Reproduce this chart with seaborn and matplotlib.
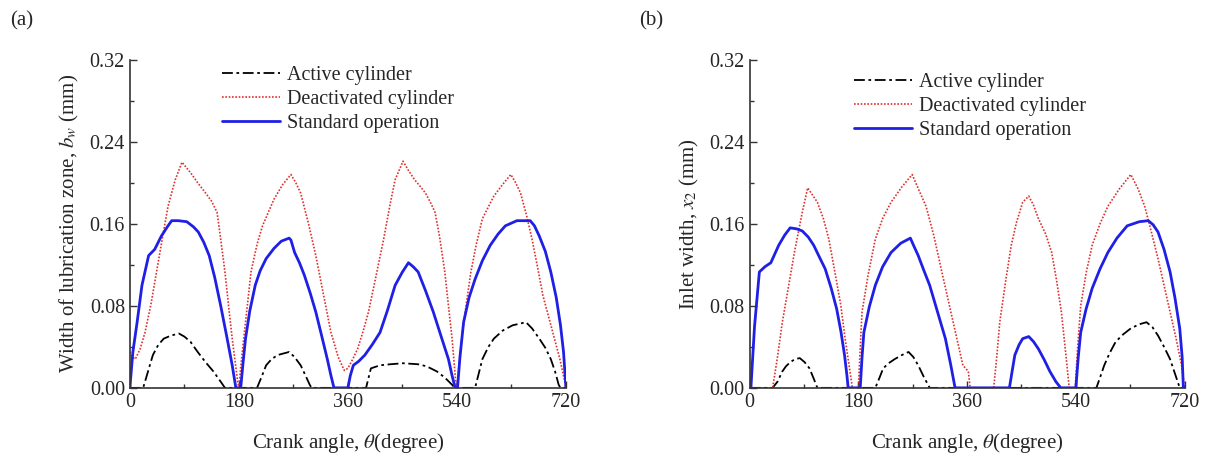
import numpy as np
import pandas as pd
import matplotlib
matplotlib.use("Agg")
import matplotlib.pyplot as plt
import seaborn as sns
from matplotlib.ticker import MultipleLocator, FormatStrFormatter

# ---- panel (a): width of lubrication zone ----
a_std_t = [0, 5, 12, 20, 31, 41, 52, 63, 69, 80, 94, 105, 113, 122, 131, 140, 150, 160, 169, 175,
           183, 187, 191, 198, 207, 215, 225, 238, 250, 263, 266, 272, 280, 288, 298, 307, 317, 326, 332, 337,
           360, 364, 369, 378, 388, 400, 413, 425, 438, 450, 460, 468, 476, 488, 501, 514, 526, 532, 537,
           541, 545, 551, 560, 570, 582, 595, 608, 620, 639, 650, 661, 668, 676, 686, 695, 704, 711, 716, 720]
a_std_v = [0, 0.035, 0.064, 0.100, 0.129, 0.135, 0.148, 0.158, 0.163, 0.163, 0.162, 0.157, 0.152, 0.142, 0.129,
           0.108, 0.080, 0.050, 0.022, 0.0,
           0.0, 0.025, 0.048, 0.075, 0.100, 0.114, 0.126, 0.136, 0.143, 0.146, 0.144, 0.132, 0.122, 0.110, 0.092,
           0.074, 0.050, 0.028, 0.012, 0.0,
           0.0, 0.012, 0.022, 0.026, 0.032, 0.042, 0.054, 0.075, 0.100, 0.113, 0.122, 0.118, 0.113, 0.095, 0.074,
           0.050, 0.028, 0.012, 0.0,
           0.0, 0.030, 0.064, 0.088, 0.106, 0.124, 0.139, 0.150, 0.158, 0.163, 0.163, 0.163, 0.158, 0.148, 0.133,
           0.113, 0.088, 0.061, 0.035, 0.0]

a_deact_t = [0, 4, 9, 17, 25, 35, 44, 54, 63, 75, 86, 100, 112, 125, 135, 144, 150, 157, 163, 169, 178,
             180, 183, 188, 200, 210, 219, 238, 252, 266, 274, 282, 295, 307, 320, 332, 344, 354,
             360, 368, 376, 385, 394, 405, 419, 430, 438, 451, 460, 470, 480, 488, 497, 504, 512, 520, 526, 532, 538,
             540, 543, 548, 555, 563, 572, 582, 601, 615, 629, 637, 645, 655, 664, 673, 682, 692, 701, 710, 717, 720]
a_deact_v = [0.035, 0.030, 0.028, 0.038, 0.054, 0.082, 0.113, 0.147, 0.177, 0.203, 0.220, 0.210, 0.200, 0.190,
             0.182, 0.171, 0.145, 0.113, 0.080, 0.048, 0.006,
             0.0, 0.020, 0.048, 0.113, 0.140, 0.158, 0.184, 0.198, 0.208, 0.200, 0.190, 0.160, 0.129, 0.090, 0.054,
             0.030, 0.017,
             0.019, 0.028, 0.038, 0.055, 0.074, 0.105, 0.145, 0.180, 0.203, 0.221, 0.212, 0.203, 0.196, 0.190, 0.180,
             0.171, 0.145, 0.113, 0.080, 0.048, 0.006,
             0.0, 0.020, 0.048, 0.080, 0.113, 0.140, 0.165, 0.187, 0.198, 0.208, 0.200, 0.190, 0.168, 0.145, 0.118,
             0.090, 0.068, 0.048, 0.028, 0.009, 0.0]

a_act_t = [0, 22, 30, 38, 47, 56, 68, 81, 90, 100, 112, 125, 138, 150, 157,
           210, 217, 225, 234, 244, 263, 272, 282, 290, 297, 300,
           390, 395, 398, 413, 430, 451, 476, 490, 507, 520, 532, 536,
           570, 576, 582, 592, 601, 616, 632, 654, 664, 676, 686, 695, 702, 708, 711, 720]
a_act_v = [0, 0, 0.016, 0.032, 0.042, 0.048, 0.051, 0.053, 0.050, 0.045, 0.035, 0.025, 0.016, 0.006, 0,
           0, 0.010, 0.022, 0.028, 0.032, 0.035, 0.030, 0.022, 0.012, 0.003, 0,
           0, 0.012, 0.019, 0.022, 0.023, 0.024, 0.023, 0.021, 0.016, 0.010, 0.003, 0,
           0, 0.014, 0.028, 0.040, 0.048, 0.056, 0.061, 0.064, 0.058, 0.048, 0.039, 0.028, 0.016, 0.003, 0, 0]

# ---- panel (b): inlet width ----
b_std_t = [0, 2, 8, 16, 25, 35, 48, 58, 67, 78, 87, 97, 106, 115, 125, 135, 144, 151, 157, 161, 163,
           183, 186, 189, 198, 208, 220, 234, 250, 266, 272, 279, 288, 298, 310, 324, 333, 340,
           430, 435, 439, 446, 452, 462, 470, 478, 488, 497, 507, 515,
           540, 544, 548, 557, 567, 580, 593, 608, 625, 645, 660, 668, 676, 686, 696, 704, 712, 716, 718, 720]
b_std_v = [0, 0, 0.060, 0.113, 0.118, 0.122, 0.139, 0.149, 0.156, 0.155, 0.153, 0.147, 0.139, 0.128, 0.116,
           0.097, 0.077, 0.055, 0.032, 0.012, 0,
           0, 0.030, 0.054, 0.079, 0.100, 0.118, 0.132, 0.141, 0.146, 0.138, 0.129, 0.115, 0.100, 0.076, 0.048,
           0.022, 0,
           0, 0.018, 0.032, 0.042, 0.048, 0.050, 0.045, 0.038, 0.027, 0.016, 0.006, 0,
           0, 0.030, 0.054, 0.077, 0.097, 0.116, 0.132, 0.146, 0.158, 0.162, 0.163, 0.159, 0.152, 0.135, 0.113,
           0.088, 0.058, 0.030, 0, 0]

b_deact_t = [0, 38, 46, 54, 64, 74, 87, 96, 104, 112, 122, 131, 141, 151, 157, 163, 170,
             180, 183, 186, 196, 208, 220, 234, 252, 269, 280, 292, 305, 317, 330, 343, 353, 362, 365,
             404, 409, 414, 424, 433, 442, 452, 462, 470, 478, 490, 500, 508, 516, 523, 529,
             539, 543, 548, 557, 567, 580, 593, 612, 631, 643, 654, 665, 676, 686, 696, 706, 715, 720]
b_deact_v = [0, 0, 0.030, 0.064, 0.098, 0.132, 0.171, 0.195, 0.188, 0.181, 0.165, 0.145, 0.113, 0.080, 0.052,
             0.028, 0,
             0, 0.040, 0.074, 0.110, 0.145, 0.165, 0.181, 0.196, 0.208, 0.193, 0.177, 0.148, 0.116, 0.082, 0.048,
             0.022, 0.016, 0,
             0, 0.030, 0.064, 0.105, 0.139, 0.162, 0.181, 0.187, 0.178, 0.165, 0.150, 0.132, 0.105, 0.074, 0.035, 0,
             0, 0.040, 0.080, 0.112, 0.139, 0.160, 0.177, 0.194, 0.208, 0.194, 0.177, 0.152, 0.126, 0.100, 0.074,
             0.048, 0.022, 0]

b_act_t = [0, 38, 46, 54, 60, 67, 75, 83, 91, 99, 106, 112,
           208, 215, 221, 230, 240, 252, 263, 271, 279, 288, 298,
           574, 580, 587, 596, 606, 618, 631, 645, 657, 667, 676, 686, 696, 704, 712, 720]
b_act_v = [0, 0, 0.006, 0.016, 0.021, 0.025, 0.028, 0.029, 0.025, 0.019, 0.009, 0,
           0, 0.010, 0.019, 0.024, 0.028, 0.032, 0.035, 0.030, 0.022, 0.011, 0,
           0, 0.010, 0.022, 0.034, 0.045, 0.052, 0.058, 0.062, 0.064, 0.059, 0.051, 0.040, 0.028, 0.014, 0, 0]

series_labels = ["Active cylinder", "Deactivated cylinder", "Standard operation"]

sns.set_style("ticks")
plt.rcParams['font.family'] = ['Liberation Serif', 'DejaVu Serif']
plt.rcParams['mathtext.fontset'] = 'stix'

fig = plt.figure(figsize=(12.25, 4.59), dpi=100)
ax1 = fig.add_axes([0.106, 0.155, 0.356, 0.715])
ax2 = fig.add_axes([0.612, 0.155, 0.355, 0.715])

panels = [
    (ax1, a_act_t, a_act_v, a_deact_t, a_deact_v, a_std_t, a_std_v,
     r"Width of lubrication zone, $b_w$ (mm)", (0.183, 1.019)),
    (ax2, b_act_t, b_act_v, b_deact_t, b_deact_v, b_std_t, b_std_v,
     r"Inlet width, $x_2$ (mm)", (0.211, 0.996)),
]

for ax, at, av, dt, dv, st, sv, ylab, leg_pos in panels:
    sns.lineplot(x=at, y=av, ax=ax, color="black", lw=1.3,
                 linestyle=(0, (6, 2, 1.5, 2)), label=series_labels[0])
    sns.lineplot(x=dt, y=dv, ax=ax, color="#e0302e", lw=1.2,
                 linestyle=(0, (1, 1)), label=series_labels[1])
    sns.lineplot(x=st, y=sv, ax=ax, color="#1f1fe6", lw=2.0, label=series_labels[2])

    ax.set_xlim(0, 720)
    ax.set_ylim(0, 0.32)
    ax.xaxis.set_major_locator(MultipleLocator(180))
    ax.xaxis.set_minor_locator(MultipleLocator(90))
    ax.yaxis.set_major_locator(MultipleLocator(0.08))
    ax.yaxis.set_minor_locator(MultipleLocator(0.04))
    ax.yaxis.set_major_formatter(FormatStrFormatter('%.2f'))
    ax.tick_params(which='both', direction='in', labelsize=14.5, color='#333333')
    ax.tick_params(which='major', length=5, width=1)
    ax.tick_params(which='minor', length=3, width=1)
    for sp in ['top', 'right']:
        ax.spines[sp].set_visible(False)
    for sp in ['left', 'bottom']:
        ax.spines[sp].set_color('#333333')
        ax.spines[sp].set_linewidth(1.2)
    ax.set_xlabel(r"Crank angle, $\theta$(degree)", fontsize=15, labelpad=14)
    ax.set_ylabel(ylab, fontsize=15, labelpad=6)
    ax.legend(loc='upper left', bbox_to_anchor=leg_pos, frameon=False, fontsize=14.5,
              handlelength=2.9, handletextpad=0.35, labelspacing=0.25, borderaxespad=0.2)

fig.text(0.008, 0.945, "(a)", fontsize=15)
fig.text(0.522, 0.945, "(b)", fontsize=15)

fig.savefig("out.png", dpi=100, facecolor="white")
